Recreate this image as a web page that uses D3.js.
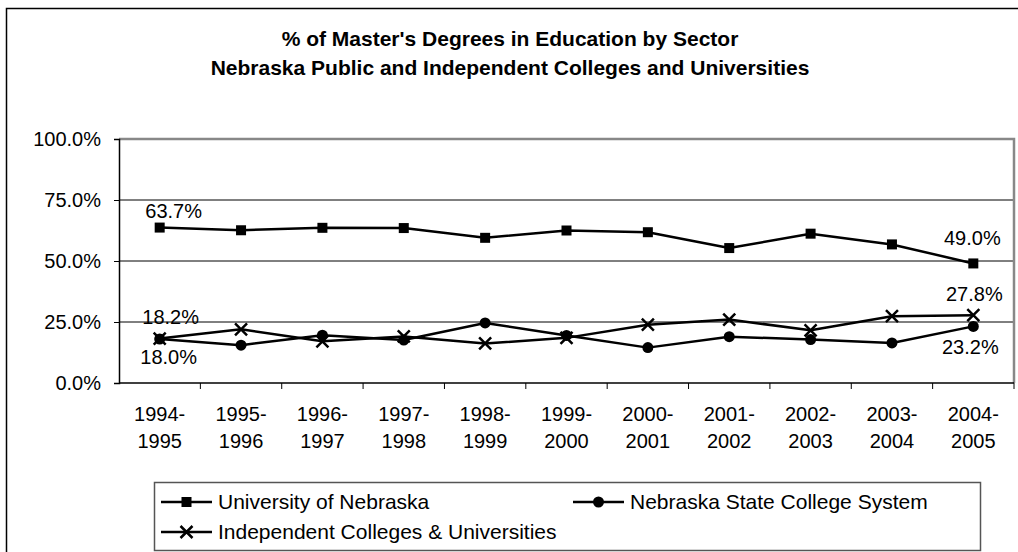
<!DOCTYPE html>
<html>
<head>
<meta charset="utf-8">
<script src="https://cdn.jsdelivr.net/npm/d3@7"></script>
<style>
    body { margin: 0; background: #fff; }
    text { font-family: "Liberation Sans", Arial, sans-serif; fill: #000; }
</style>
</head>
<body>
<svg id="chart"></svg>
<script>
const years = ["1994-1995", "1995-1996", "1996-1997", "1997-1998", "1998-1999", "1999-2000",
    "2000-2001", "2001-2002", "2002-2003", "2003-2004", "2004-2005"];
const univNebraska = [63.7, 62.6, 63.6, 63.5, 59.5, 62.5, 61.8, 55.3, 61.2, 56.8, 49.0];
const stateColleges = [18.0, 15.5, 19.6, 17.6, 24.6, 19.5, 14.5, 19.0, 17.8, 16.4, 23.2];
const independents = [18.2, 22.0, 17.1, 19.1, 16.2, 18.5, 23.9, 26.0, 21.6, 27.4, 27.8];
const yTicks = [0, 25, 50, 75, 100];
const titleLines = ["% of Master's Degrees in Education by Sector",
    "Nebraska Public and Independent Colleges and Universities"];

const series = [
    { name: "University of Nebraska", values: univNebraska, marker: "square" },
    { name: "Nebraska State College System", values: stateColleges, marker: "circle" },
    { name: "Independent Colleges & Universities", values: independents, marker: "cross" }
];

// which points get a value label, with offsets from the point
const labels = [
    { s: 0, i: 0, dx: 14, dy: -10 },
    { s: 0, i: 10, dx: -1, dy: -18 },
    { s: 2, i: 0, dx: 11, dy: -15 },
    { s: 2, i: 10, dx: 1, dy: -14 },
    { s: 1, i: 0, dx: 9, dy: 25 },
    { s: 1, i: 10, dx: -3, dy: 28 }
];

const width = 1018, height = 552;
const margin = { top: 139, right: 4, bottom: 169, left: 119 };
const innerW = width - margin.left - margin.right;
const innerH = height - margin.top - margin.bottom;

const svg = d3.select("#chart").attr("width", width).attr("height", height);

// outer chart frame (runs off the right and bottom edges)
svg.append("rect")
    .attr("x", 6.5).attr("y", 8.5)
    .attr("width", width + 20).attr("height", height + 20)
    .attr("fill", "none").attr("stroke", "#000").attr("stroke-width", 1.5);

svg.append("g").selectAll("text")
    .data(titleLines)
    .join("text")
    .attr("x", 510)
    .attr("y", (d, i) => 46 + i * 29)
    .attr("text-anchor", "middle")
    .style("font-size", "21px")
    .style("font-weight", "bold")
    .text(d => d);

const xBand = d3.scaleBand().domain(years).range([0, innerW]);
const x = d => xBand(d) + xBand.bandwidth() / 2;
const y = d3.scaleLinear().domain([0, 100]).range([innerH, 0]);

const g = svg.append("g").attr("transform", `translate(${margin.left},${margin.top})`);

// gridlines
g.append("g").selectAll("line")
    .data(yTicks.filter(t => t > 0 && t < 100))
    .join("line")
    .attr("x1", 0).attr("x2", innerW)
    .attr("y1", d => y(d)).attr("y2", d => y(d))
    .attr("stroke", "#000").attr("stroke-width", 1);

// plot border top/right in gray
g.append("path")
    .attr("d", `M0,${y(100)}H${innerW}V${innerH}`)
    .attr("fill", "none").attr("stroke", "#888").attr("stroke-width", 2.5);

// y axis
const yAxis = g.append("g")
    .call(d3.axisLeft(y).tickValues(yTicks).tickSize(5).tickPadding(13)
        .tickFormat(d => d3.format(".1f")(d) + "%"));
yAxis.select(".domain").attr("stroke", "#000").attr("stroke-width", 1.5);
yAxis.selectAll("text").style("font-size", "20px").attr("font-family", null);

// x axis: ticks between categories
const xAxis = g.append("g").attr("transform", `translate(0,${innerH})`);
xAxis.append("line").attr("x1", 0).attr("x2", innerW).attr("stroke", "#000").attr("stroke-width", 1.5);
xAxis.selectAll(".tk")
    .data(years)
    .join("line")
    .attr("class", "tk")
    .attr("x1", d => xBand(d) + xBand.bandwidth()).attr("x2", d => xBand(d) + xBand.bandwidth())
    .attr("y1", 0).attr("y2", 6)
    .attr("stroke", "#000");
xAxis.selectAll(".lbl")
    .data(years)
    .join("text")
    .attr("class", "lbl")
    .attr("text-anchor", "middle")
    .style("font-size", "20px")
    .each(function (d) {
        const parts = d.split("-");
        const t = d3.select(this);
        t.append("tspan").attr("x", x(d)).attr("y", 38).text(parts[0] + "-");
        t.append("tspan").attr("x", x(d)).attr("y", 65).text(parts[1]);
    });

const line = d3.line()
    .x((d, i) => x(years[i]))
    .y(d => y(d));

function drawMarker(sel, type) {
    if (type === "square") {
        sel.append("rect").attr("x", -5).attr("y", -5).attr("width", 10).attr("height", 10).attr("fill", "#000");
    } else if (type === "circle") {
        sel.append("circle").attr("r", 5.5).attr("fill", "#000");
    } else {
        sel.append("path").attr("d", "M-6,-6L6,6M-6,6L6,-6")
            .attr("stroke", "#000").attr("stroke-width", 2.5).attr("fill", "none");
    }
}

series.forEach(s => {
    g.append("path")
        .datum(s.values)
        .attr("d", line)
        .attr("fill", "none")
        .attr("stroke", "#000")
        .attr("stroke-width", 2.5)
        .attr("stroke-linejoin", "round");
    g.append("g").selectAll("g")
        .data(s.values)
        .join("g")
        .attr("transform", (d, i) => `translate(${x(years[i])},${y(d)})`)
        .call(sel => drawMarker(sel, s.marker));
});

g.append("g").selectAll("text")
    .data(labels)
    .join("text")
    .attr("x", d => x(years[d.i]) + d.dx)
    .attr("y", d => y(series[d.s].values[d.i]) + d.dy)
    .attr("text-anchor", "middle")
    .style("font-size", "20px")
    .text(d => d3.format(".1f")(series[d.s].values[d.i]) + "%");

// legend
const legend = svg.append("g").attr("transform", "translate(154,482)");
legend.append("rect")
    .attr("x", 0.5).attr("y", 0.5).attr("width", 826).attr("height", 68)
    .attr("fill", "#fff").attr("stroke", "#555").attr("stroke-width", 1.5);
const legendPos = [[7, 20], [419, 20], [7, 50]];
const items = legend.selectAll(".item")
    .data(series)
    .join("g")
    .attr("class", "item")
    .attr("transform", (d, i) => `translate(${legendPos[i][0]},${legendPos[i][1]})`);
items.append("line").attr("x1", 0).attr("x2", 51).attr("stroke", "#000").attr("stroke-width", 2.5);
items.append("g").attr("transform", "translate(25.5,0)")
    .each(function (d) { drawMarker(d3.select(this), d.marker); });
items.append("text")
    .attr("x", 57).attr("y", 7)
    .style("font-size", "21px")
    .text(d => d.name);
</script>
</body>
</html>
